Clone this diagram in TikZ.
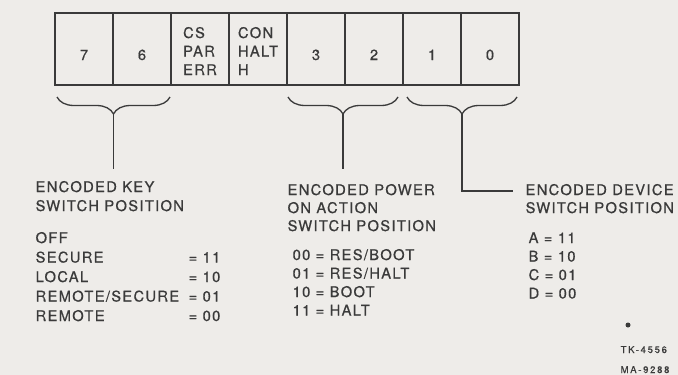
\documentclass[tikz,border=0pt]{standalone}
\usepackage{fontspec}
\setmainfont{TeX Gyre Heros}[LetterSpace=9,FakeBold=0.6]
\usetikzlibrary{positioning,decorations.pathreplacing}
\definecolor{paper}{RGB}{238,236,233}
\definecolor{ink}{RGB}{58,58,58}

\begin{document}
\begin{tikzpicture}[x=1pt,y=-1pt,font=\fontsize{14.7}{19}\selectfont,color=ink,line width=1.3pt,
  txt/.style={anchor=base west,inner sep=0pt},
  bit/.style={anchor=base,inner sep=0pt},
  brc/.style={decorate,decoration={brace,mirror,amplitude=17pt}},
  tag/.style={anchor=base west,inner sep=0pt,font=\fontsize{9.5}{11}\selectfont\addfontfeature{LetterSpace=18}}]
\fill[paper] (0,0) rectangle (678,375);
\useasboundingbox (0,0) rectangle (678,375);
% register cells
\draw[line width=1.8pt] (55,13) rectangle (519,85);
\draw (113,13) -- (113,85);
\draw (171,13) -- (171,85);
\draw (229,13) -- (229,85);
\draw (287,13) -- (287,85);
\draw (345,13) -- (345,85);
\draw (403,13) -- (403,85);
\draw (461,13) -- (461,85);
\node[bit] (b7) at (84,60) {7};
\node[bit] (b6) at (142,60) {6};
\node[bit] (b5) at (200,38) {\begin{tabular}[t]{@{}l@{}}CS\\[-0.5pt]PAR\\[-0.5pt]ERR\end{tabular}};
\node[bit] (b4) at (258,38) {\begin{tabular}[t]{@{}l@{}}CON\\[-0.5pt]HALT\\[-0.5pt]H\end{tabular}};
\node[bit] (b3) at (316,60) {3};
\node[bit] (b2) at (374,60) {2};
\node[bit] (b1) at (432,60) {1};
\node[bit] (b0) at (490,60) {0};
% braces
\draw[brc] (57,97) -- (170,97);
\draw[brc] (288,97) -- (398,97);
\draw[brc] (407,97) -- (517,97);
\coordinate (keytip) at (113.5,114);
\coordinate (powtip) at (343,114);
\coordinate (devtip) at (462,114);
% key switch
\node[txt] (keyhead) at (35,192) {\begin{tabular}[t]{@{}l@{}}ENCODED KEY\\SWITCH POSITION\end{tabular}};
\node[txt] (keylist) at (35,243) {\begin{tabular}[t]{@{}p{153pt}@{}l@{}}
OFF & \\[0.5pt]
SECURE & = 11\\[0.5pt]
LOCAL & = 10\\[0.5pt]
REMOTE/SECURE & = 01\\[0.5pt]
REMOTE & = 00\end{tabular}};
% power on action
\node[txt] (powhead) at (287,195) {\begin{tabular}[t]{@{}l@{}}ENCODED POWER\\[-1pt]ON ACTION\\[-1pt]SWITCH POSITION\end{tabular}};
\node[txt] (powlist) at (292,260) {\begin{tabular}[t]{@{}l@{}}
00 = RES/BOOT\\[-0.5pt]
01 = RES/HALT\\[-0.5pt]
10 = BOOT\\[-0.5pt]
11 = HALT\end{tabular}};
% device
\node[txt] (devhead) at (525,195) {\begin{tabular}[t]{@{}l@{}}ENCODED DEVICE\\[-1pt]SWITCH POSITION\end{tabular}};
\node[txt] (devlist) at (528,243) {\begin{tabular}[t]{@{}l@{}}
A = 11\\[-0.5pt]
B = 10\\[-0.5pt]
C = 01\\[-0.5pt]
D = 00\end{tabular}};
% leaders
\draw[shorten >=9pt] (keytip) -- (keytip |- keyhead.north);
\draw[shorten >=12pt] (powtip) -- (powtip |- powhead.north);
\draw (devtip) |- ([xshift=-12pt,yshift=4pt]devhead.base west);
\fill (628,325) circle (2.5);
\node[tag] (tk) at (620,353) {TK-4556};
\node[tag] (ma) at (620,373) {MA-9288};
\end{tikzpicture}
\end{document}
